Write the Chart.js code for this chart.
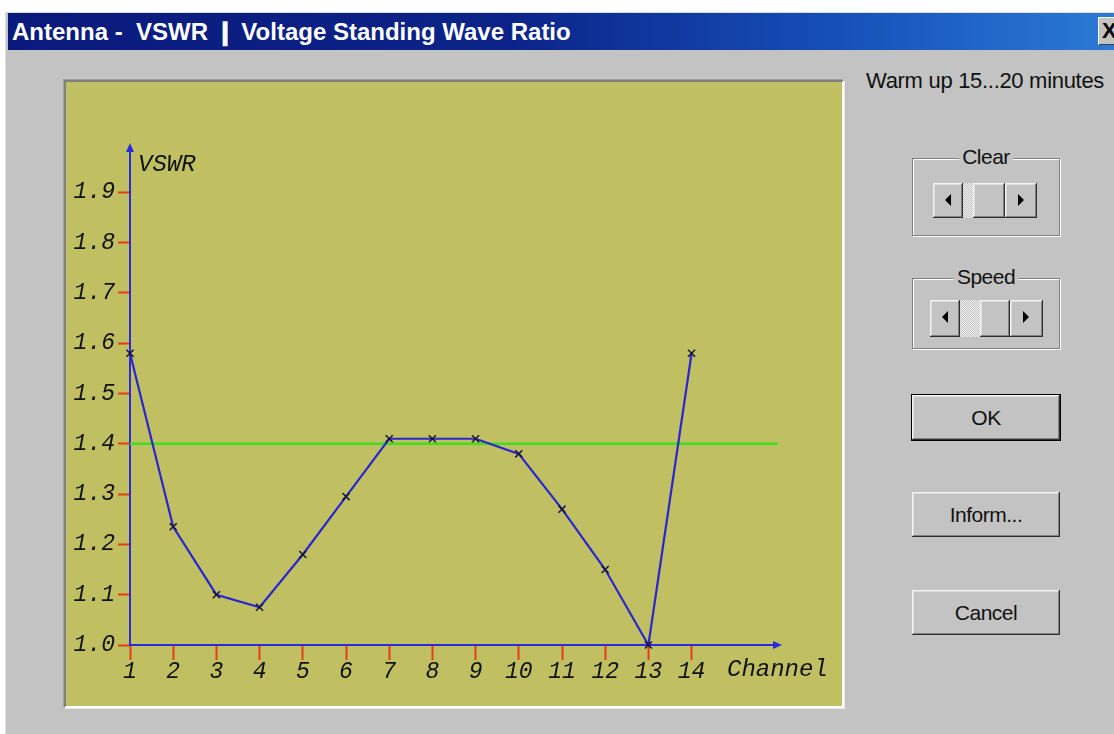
<!DOCTYPE html>
<html>
<head>
<meta charset="utf-8">
<script src="https://cdn.jsdelivr.net/npm/chart.js@4.4.0/dist/chart.umd.min.js"></script>
<style>
  html, body { margin: 0; padding: 0; }
  body { width: 1114px; height: 734px; overflow: hidden; background: #fff; position: relative;
         font-family: "Liberation Sans", Arial, sans-serif; }
  .dlg { position: absolute; left: 5px; top: 12px; width: 1114px; height: 722px; background: #c3c3c3;
         border-left: 1px solid #dcdcdc; border-top: 1px solid #dcdcdc; }
  .title { position: absolute; left: 8px; top: 13px; width: 1106px; height: 37px;
           background: linear-gradient(to right, #0a1a7c 0%, #0b2388 45%, #1550b8 75%, #2b7ad6 100%);
           color: #fff; font: bold 24px "Liberation Sans", Arial, sans-serif; line-height: 37px;
           white-space: pre; }
  .title span { padding-left: 4px; }
  .close { position: absolute; left: 1098px; top: 17px; width: 26px; height: 28px; background: #c3c3c3;
           box-shadow: inset 1px 1px #fff, inset -1px -1px #404040;
           font: bold 22px "Liberation Sans", Arial, sans-serif; line-height: 28px; color: #000; text-indent: 4px; }
  .panel { position: absolute; left: 64px; top: 80px; width: 772px; height: 620px;
           border: 2px solid; border-color: #808080 #fff #fff #808080;
           box-shadow: 1px 1px 0 0 #e8e8e8, -1px -1px 0 0 #a0a0a0;
           background: #c0c062; padding: 2px; }
  canvas { display: block; }
  .warm { position: absolute; left: 866px; top: 68px; font-size: 22px; color: #111; letter-spacing: -0.3px; }
  .group { position: absolute; left: 912px; width: 146px; border: 1px solid #808080;
           box-shadow: 1px 1px 0 #fff, inset 1px 1px 0 #fff; }
  .group .lbl { position: absolute; top: -14px; left: 0; right: 0; text-align: center; }
  .group .lbl span { background: #c3c3c3; padding: 0 3px; font-size: 21px; color: #111; letter-spacing: -0.5px; }
  .btn3d { position: absolute; background: #c3c3c3;
           box-shadow: inset -1px -1px #303030, inset 1px 1px #f4f4f4, inset -2px -2px #808080, inset 2px 2px #dcdcdc; }
  .track { position: absolute;
           background: repeating-conic-gradient(#f0f0f0 0 25%, #c3c3c3 0 50%) 0 0 / 2px 2px; }
  .tri-l { position: absolute; left: 12px; top: 11px; width: 0; height: 0;
           border-top: 6px solid transparent; border-bottom: 6px solid transparent; border-right: 6px solid #000; }
  .tri-r { position: absolute; left: 13px; top: 11px; width: 0; height: 0;
           border-top: 6px solid transparent; border-bottom: 6px solid transparent; border-left: 6px solid #000; }
  .pb { position: absolute; left: 912px; width: 148px; height: 45px; background: #c3c3c3; text-align: center;
        line-height: 45px; font-size: 21px; color: #111; letter-spacing: -0.5px;
        box-shadow: inset -1px -1px #303030, inset 1px 1px #f4f4f4, inset -2px -2px #808080, inset 2px 2px #dcdcdc; }
  .pb.def { box-shadow: 0 0 0 1px #000, inset -1px -1px #303030, inset 1px 1px #f4f4f4, inset -2px -2px #808080, inset 2px 2px #dcdcdc; }
</style>
</head>
<body>
<div class="dlg"></div>
<div class="title"><span>Antenna -  VSWR ❙ Voltage Standing Wave Ratio</span></div>
<div class="close">X</div>

<div class="panel"><canvas id="vswr_chart" width="772" height="620"></canvas></div>

<div class="warm">Warm up 15...20 minutes</div>

<div class="group" style="top:158px; height:76px;">
  <div class="lbl"><span>Clear</span></div>
</div>
<div class="btn3d" style="left:933px; top:183px; width:30px; height:35px;"><div class="tri-l"></div></div>
<div class="track" style="left:963px; top:183px; width:10px; height:35px;"></div>
<div class="btn3d" style="left:973px; top:183px; width:32px; height:35px;"></div>
<div class="btn3d" style="left:1005px; top:183px; width:32px; height:35px;"><div class="tri-r"></div></div>

<div class="group" style="top:278px; height:69px;">
  <div class="lbl"><span>Speed</span></div>
</div>
<div class="btn3d" style="left:930px; top:300px; width:30px; height:37px;"><div class="tri-l"></div></div>
<div class="track" style="left:960px; top:300px; width:20px; height:37px;"></div>
<div class="btn3d" style="left:980px; top:300px; width:30px; height:37px;"></div>
<div class="btn3d" style="left:1010px; top:300px; width:33px; height:37px;"><div class="tri-r"></div></div>

<div class="pb def" style="top:395px;">OK</div>
<div class="pb" style="top:492px;">Inform...</div>
<div class="pb" style="top:590px;">Cancel</div>

<script>
var channels = [1, 2, 3, 4, 5, 6, 7, 8, 9, 10, 11, 12, 13, 14];
var vswrValues = [1.58, 1.235, 1.10, 1.075, 1.18, 1.295, 1.41, 1.41, 1.41, 1.38, 1.27, 1.15, 1.00, 1.58];
var limitValue = 1.4;
var yTicks = [1.0, 1.1, 1.2, 1.3, 1.4, 1.5, 1.6, 1.7, 1.8, 1.9];
var xTicks = [1, 2, 3, 4, 5, 6, 7, 8, 9, 10, 11, 12, 13, 14];
var xRange = [1, 16];
var yRange = [1.0, 1.99];
var xTitle = "Channel";
var yTitle = "VSWR";

var axisBlue = "#2a2ae0";
var tickRed = "#e83c14";
var monoFont = { family: "'Liberation Mono', 'DejaVu Sans Mono', monospace", style: "italic", size: 23 };

// arrowheads + axis names, drawn at the ends of the axes
var axisDecor = {
  id: "axisDecor",
  afterDraw: function(chart) {
    var ctx = chart.ctx;
    var a = chart.chartArea;
    ctx.save();
    ctx.fillStyle = axisBlue;
    ctx.beginPath();
    ctx.moveTo(a.left, a.top - 4);
    ctx.lineTo(a.left - 4, a.top + 5);
    ctx.lineTo(a.left + 4, a.top + 5);
    ctx.closePath();
    ctx.fill();
    ctx.beginPath();
    ctx.moveTo(a.right + 4, a.bottom);
    ctx.lineTo(a.right - 5, a.bottom - 4);
    ctx.lineTo(a.right - 5, a.bottom + 4);
    ctx.closePath();
    ctx.fill();
    ctx.fillStyle = "#111";
    ctx.font = "italic 24px 'Liberation Mono', monospace";
    ctx.textBaseline = "middle";
    ctx.textAlign = "left";
    ctx.fillText(yTitle, a.left + 8, a.top + 18);
    ctx.fillText(xTitle, a.right - 51, a.bottom + 25);
    ctx.restore();
  }
};

function start() {
  var ctx = document.getElementById("vswr_chart").getContext("2d");
  new Chart(ctx, {
    type: "line",
    data: {
      datasets: [
        {
          label: "VSWR",
          data: channels.map(function(c, i) { return { x: c, y: vswrValues[i] }; }),
          borderColor: "#2a26d0",
          borderWidth: 2.2,
          pointStyle: "crossRot",
          pointRadius: 5,
          pointBorderColor: "#14143c",
          pointBorderWidth: 1.5,
          tension: 0,
          clip: false
        },
        {
          label: "limit",
          data: [{ x: xRange[0], y: limitValue }, { x: xRange[1], y: limitValue }],
          borderColor: "#3ee01e",
          borderWidth: 2.5,
          pointRadius: 0,
          clip: false
        }
      ]
    },
    options: {
      responsive: false,
      animation: false,
      events: [],
      layout: { padding: { top: 63, right: 62, left: 0, bottom: 0 } },
      plugins: { legend: { display: false }, tooltip: { enabled: false } },
      scales: {
        x: {
          type: "linear",
          min: xRange[0],
          max: xRange[1],
          afterBuildTicks: function(s) { s.ticks = xTicks.map(function(v) { return { value: v }; }); },
          afterFit: function(s) { s.height = 59; },
          grid: { drawOnChartArea: false, tickLength: 15, tickColor: tickRed, tickWidth: 2 },
          border: { color: axisBlue, width: 2 },
          ticks: { color: "#111", font: monoFont, padding: -2, maxRotation: 0, autoSkip: false }
        },
        y: {
          type: "linear",
          min: yRange[0],
          max: yRange[1],
          afterBuildTicks: function(s) { s.ticks = yTicks.map(function(v) { return { value: v }; }); },
          afterFit: function(s) { s.width = 62; },
          grid: { drawOnChartArea: false, tickLength: 12, tickColor: tickRed, tickWidth: 2 },
          border: { color: axisBlue, width: 2 },
          ticks: { color: "#111", font: monoFont, padding: 3,
                   callback: function(v) { return v.toFixed(1); } }
        }
      }
    },
    plugins: [axisDecor]
  });
}

window.onload = start;
</script>
</body>
</html>
